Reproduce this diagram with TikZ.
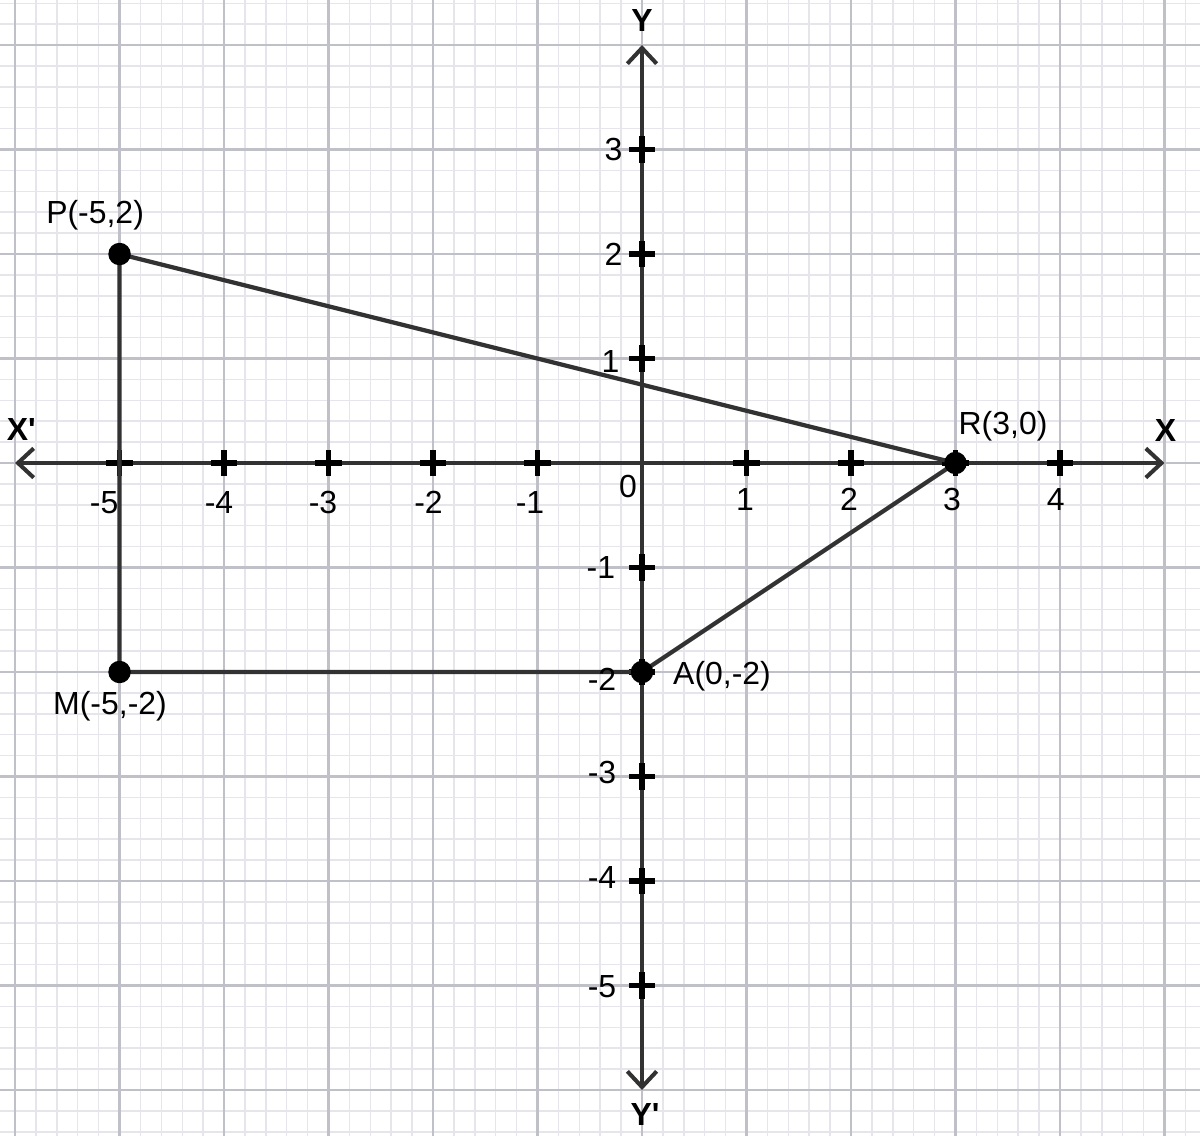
\documentclass[tikz,border=0pt]{standalone}
\usepackage{fontspec}
\setmainfont{Liberation Sans}
\newfontfamily\plainsans{Liberation Sans}
\usetikzlibrary{arrows.meta}
\definecolor{majorgrid}{RGB}{192,192,200}
\definecolor{minorgrid}{RGB}{229,229,235}
\definecolor{axisgray}{RGB}{50,50,50}
\tikzset{
  minorline/.style={draw=minorgrid, line width=0.4pt},
  majorline/.style={draw=majorgrid, line width=0.6pt},
  axisline/.style={draw=axisgray, line width=1.1pt,
    {Straight Barb[length=1.5mm,width=2.8mm]}-{Straight Barb[length=1.5mm,width=2.8mm]}},
  tickmark/.style={draw=black, line width=1.5pt},
  edge/.style={draw=axisgray, line width=1.15pt, line join=round},
  dot/.style={circle, fill=black, inner sep=0pt, minimum size=2.15mm},
  lbl/.style={font=\fontsize{8.7}{10}\selectfont, inner sep=0pt, text=black},
  axlbl/.style={font=\plainsans\fontsize{8.7}{10}\selectfont\bfseries, inner sep=0pt, text=black},
}
\begin{document}
\begin{tikzpicture}
\useasboundingbox (-6.144,-6.431) rectangle (5.340,4.431);
\begin{scope}
\clip (-6.144,-6.431) rectangle (5.340,4.431);
\fill[white] (-6.144,-6.431) rectangle (5.340,4.431);
\draw[minorline, step=0.2] (-7,-7) grid (6,5);
\draw[majorline, step=1] (-7,-7) grid (6,5);
\end{scope}

% points
\coordinate (P) at (-5,2);
\coordinate (R) at (3,0);
\coordinate (A) at (0,-2);
\coordinate (M) at (-5,-2);

% axes
\coordinate (xl) at (-6,0);
\coordinate (xr) at (5,0);
\coordinate (yt) at (0,4);
\coordinate (yb) at (0,-6);
\draw[axisline] (xl) -- (xr);
\draw[axisline] (yb) -- (yt);

% ticks
\foreach \i in {-5,-4,-3,-2,-1,1,2,3,4}{
  \draw[tickmark] (\i,-0.125) -- (\i,0.125) (\i-0.125,0) -- (\i+0.125,0);
}
\foreach \j in {-5,-4,-3,-2,-1,1,2,3}{
  \draw[tickmark] (-0.125,\j) -- (0.125,\j) (0,\j-0.125) -- (0,\j+0.125);
}

% quadrilateral
\draw[edge] (P) -- (R) -- (A) -- (M) -- cycle;

% dots
\node[dot] (Pd) at (P) {};
\node[dot] (Rd) at (R) {};
\node[dot] (Ad) at (A) {};
\node[dot] (Md) at (M) {};

% axis labels
\node[axlbl] (lY) at (0,4.23) {Y};
\node[axlbl] (lYp) at (0.03,-6.23) {Y'};
\node[axlbl] (lXp) at (-5.94,0.32) {X'};
\node[axlbl] (lX) at (5.01,0.31) {X};

% point labels
\node[lbl] (lP) at (-5.234,2.373) {P(-5,2)};
\node[lbl] (lR) at (3.455,0.354) {R(3,0)};
\node[lbl] (lA) at (0.766,-2.038) {A(0,-2)};
\node[lbl] (lM) at (-5.091,-2.325) {M(-5,-2)};

% origin
\node[lbl] (l0) at (-0.134,-0.22) {0};

% x tick labels
\node[lbl] (xm5) at (-5.148,-0.38) {-5};
\node[lbl] (xm4) at (-4.048,-0.38) {-4};
\node[lbl] (xm3) at (-3.053,-0.38) {-3};
\node[lbl] (xm2) at (-2.043,-0.38) {-2};
\node[lbl] (xm1) at (-1.072,-0.38) {-1};
\node[lbl] (xp1) at (0.986,-0.35) {1};
\node[lbl] (xp2) at (1.98,-0.35) {2};
\node[lbl] (xp3) at (2.967,-0.35) {3};
\node[lbl] (xp4) at (3.96,-0.35) {4};

% y tick labels
\node[lbl, anchor=east] (yp3) at (-0.18,3.0) {3};
\node[lbl, anchor=east] (yp2) at (-0.18,2.0) {2};
\node[lbl, anchor=east] (yp1) at (-0.21,0.97) {1};
\node[lbl, anchor=east] (ym1) at (-0.25,-1.0) {-1};
\node[lbl, anchor=east] (ym2) at (-0.24,-2.067) {-2};
\node[lbl, anchor=east] (ym3) at (-0.24,-2.96) {-3};
\node[lbl, anchor=east] (ym4) at (-0.24,-3.97) {-4};
\node[lbl, anchor=east] (ym5) at (-0.24,-5.01) {-5};
\end{tikzpicture}
\end{document}
